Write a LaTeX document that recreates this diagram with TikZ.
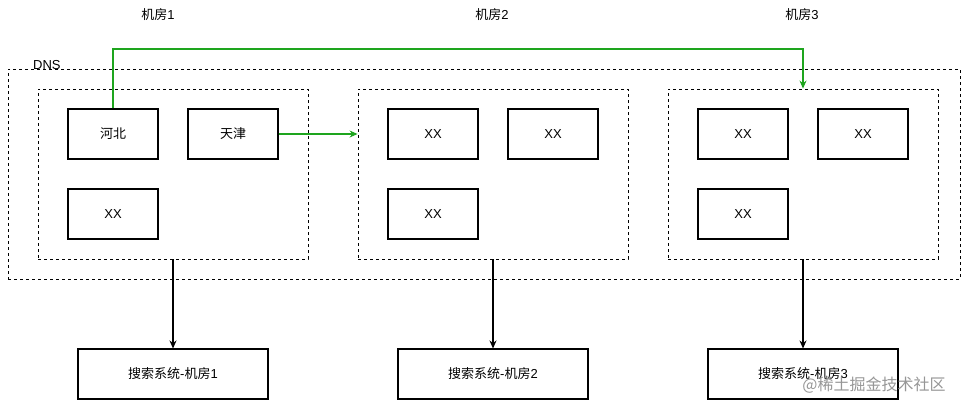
\documentclass[tikz,border=0pt]{standalone}
\usepackage{fontspec}
\setmainfont{Liberation Sans}
\newfontfamily\cjk{Noto Sans CJK SC}
\usetikzlibrary{arrows.meta}
\definecolor{grn}{RGB}{30,165,30}
\definecolor{wm}{RGB}{150,150,150}
\begin{document}
\begin{tikzpicture}[x=1pt,y=-1pt,
  txt/.style={font=\fontsize{13}{15}\selectfont, inner sep=0pt},
  box/.style={draw, line width=1.1pt, minimum width=90pt, minimum height=50pt, inner sep=0pt, font=\fontsize{13}{15}\selectfont},
  sbox/.style={draw, line width=1.1pt, minimum width=190pt, minimum height=50pt, inner sep=0pt, font=\fontsize{13}{15}\selectfont},
  grp/.style={draw, line width=0.9pt, dash pattern=on 3pt off 3pt, minimum width=270pt, minimum height=170pt, inner sep=0pt},
  dnsbox/.style={draw, line width=0.9pt, dash pattern=on 3pt off 3pt, minimum width=952pt, minimum height=210pt, inner sep=0pt},
  arr/.style={draw=black, line width=1.1pt, -{Stealth[length=8pt,width=7pt]}},
  garr/.style={draw=grn, line width=1.1pt, -{Stealth[length=8pt,width=7pt]}}
]
\useasboundingbox (0,0) rectangle (969,410);

% titles
\node[txt] (t1) at (158,15) {{\cjk 机房}1};
\node[txt] (t2) at (492,15) {{\cjk 机房}2};
\node[txt] (t3) at (802,15) {{\cjk 机房}3};

% DNS outer
\node[dnsbox] (dns) at (484,174) {};
\node[txt, anchor=base west] (dnslbl) at (33,69) {DNS};

% groups
\node[grp] (g1) at (173,174) {};
\node[grp] (g2) at (493,174) {};
\node[grp] (g3) at (803,174) {};

% group 1
\node[box] (hebei) at (113,134) {\cjk 河北};
\node[box] (tj) at (233,134) {\cjk 天津};
\node[box] (a3) at (113,214) {XX};
% group 2
\node[box] (b1) at (433,134) {XX};
\node[box] (b2) at (553,134) {XX};
\node[box] (b3) at (433,214) {XX};
% group 3
\node[box] (c1) at (743,134) {XX};
\node[box] (c2) at (863,134) {XX};
\node[box] (c3) at (743,214) {XX};

% search systems
\node[sbox] (s1) at (173,374) {{\cjk 搜索系统}-{\cjk 机房}1};
\node[sbox] (s2) at (493,374) {{\cjk 搜索系统}-{\cjk 机房}2};
\node[sbox] (s3) at (803,374) {{\cjk 搜索系统}-{\cjk 机房}3};

% arrows
\draw[arr] (g1.south) -- (s1.north);
\draw[arr] (g2.south) -- (s2.north);
\draw[arr] (g3.south) -- (s3.north);

\coordinate (gtop) at (113,49);
\draw[garr] (hebei.north) -- (gtop) -| (g3.north);
\draw[garr] (tj.east) -- (tj.east -| g2.west);

% watermark
\node[font=\fontsize{16}{18}\selectfont, text=wm, inner sep=0pt] (wmk) at (874,385) {{\cjk @稀土掘金技术社区}};
\end{tikzpicture}
\end{document}
